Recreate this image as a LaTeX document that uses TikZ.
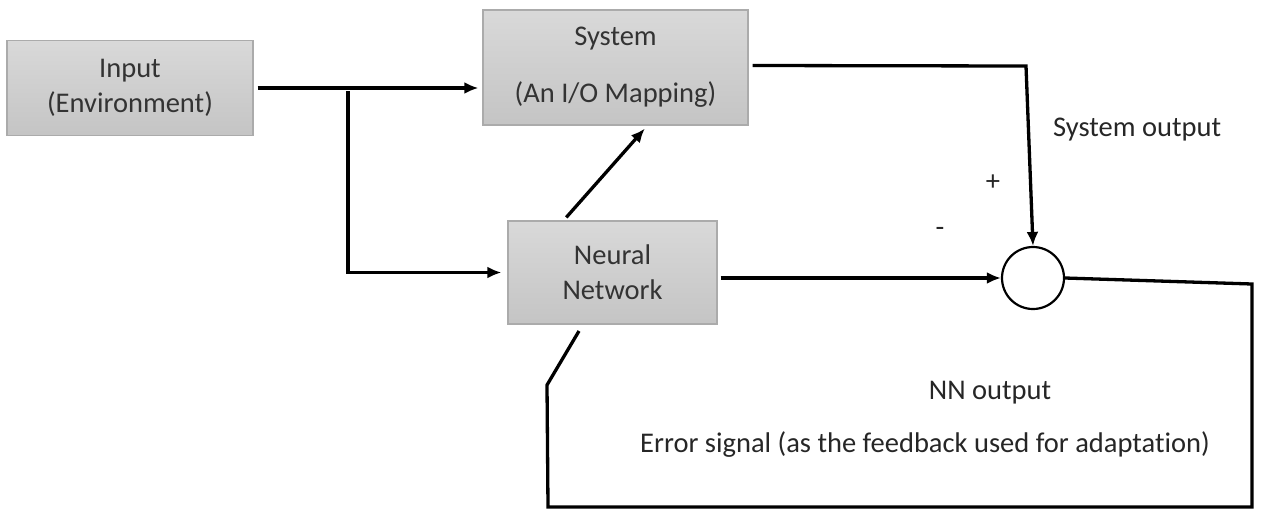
\documentclass[tikz,border=0pt]{standalone}
\usepackage{fontspec}
\setmainfont[Ligatures=NoCommon]{Carlito}
\usetikzlibrary{arrows.meta,calc}
\begin{document}
\begin{tikzpicture}[x=1pt,y=-1pt,
  blk/.style={draw=black!33, line width=1.2pt, top color=black!15, bottom color=black!23,
    text=black!80, align=center, font=\fontsize{28.5}{35}\selectfont, inner sep=0pt},
  wire/.style={line width=3.3pt, black},
  arr/.style={wire, -{Latex[length=14pt,width=12pt]}},
  lbl/.style={text=black!85, font=\fontsize{28.5}{35}\selectfont, inner sep=0pt}
]
\useasboundingbox (0,0) rectangle (1261,515);

% blocks
\node[blk, minimum width=246pt, minimum height=95pt] (in) at (130,88) {Input\\(Environment)};
\node[blk, minimum width=265pt, minimum height=115pt] (sys) at (615.5,67.5) {System\\[22pt](An I/O Mapping)};
\node[blk, minimum width=209pt, minimum height=103pt] (nn) at (612.5,272.5) {Neural\\Network};
\node[draw, line width=2.2pt, circle, minimum size=62pt, inner sep=0pt] (sum) at (1033,278) {};

% helper points of the wiring
\coordinate (br) at (348,91);
\coordinate (c1) at (1026,66);
\coordinate (f1) at (1252,284);
\coordinate (f2) at (1252,507);
\coordinate (f3) at (548,507);
\coordinate (f4) at (547,385);
\coordinate (f5) at (579,331);

% input to system and to the network
\draw[arr] ([xshift=4pt]in.east) -- ([xshift=-4pt]sys.west |- in.east);
\draw[arr] (br) |- ([xshift=-6pt]nn.west);
% network drives the system
\draw[arr] ($(nn.north west)!0.28!(nn.north east)+(0,-3)$) -- ($(sys.south west)!0.61!(sys.south east)+(0,3)$);
% system output to the comparator
\draw[arr] ([xshift=4pt,yshift=2pt]sys.east) -- (c1) -- (sum.north);
% network output to the comparator
\draw[arr] ([xshift=3pt]nn.east |- sum.west) -- (sum.west);
% error fed back to the network
\draw[wire] (sum.east) -- (f1) -- (f2) -- (f3) -- (f4) -- (f5);

% labels
\node[lbl, anchor=west] (lso) at (1053,130) {System output};
\node[lbl] (lp) at (993,183) {+};
\node[lbl] (lm) at (940,232) {-};
\node[lbl] (lnn) at (990,393) {NN output};
\node[lbl] (ler) at (925,445) {Error signal (as the feedback used for adaptation)};
\end{tikzpicture}
\end{document}
